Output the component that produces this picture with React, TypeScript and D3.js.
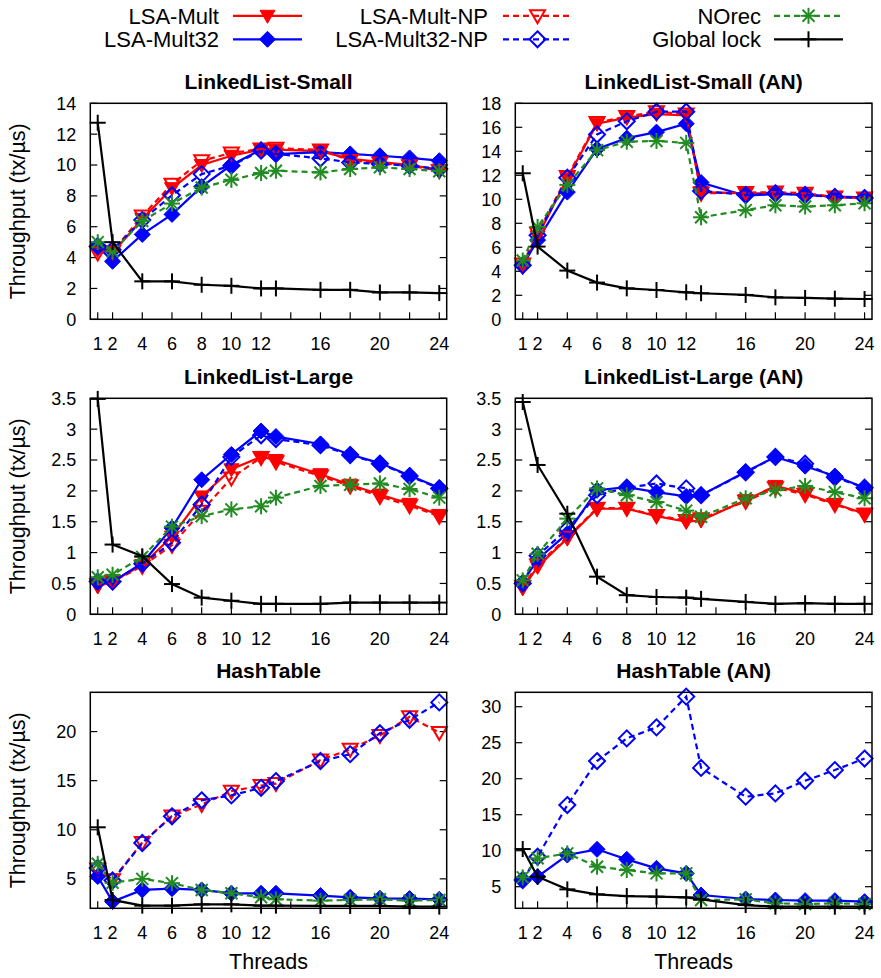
import React from 'react';
import * as d3 from 'd3';

// ---------- data ----------
const THREADS = [1, 2, 4, 6, 8, 10, 12, 13, 16, 18, 20, 22, 24];
const X_TICKS = [1, 2, 4, 6, 8, 10, 12, 14, 16, 18, 20, 22, 24];
const X_TICK_LABELS = [1, 2, 4, 6, 8, 10, 12, 16, 20, 24];

const SERIES_NAMES = ['LSA-Mult', 'LSA-Mult32', 'LSA-Mult-NP', 'LSA-Mult32-NP', 'NOrec', 'Global lock'];

// LinkedList-Small
const llSmallMult = [4.5, 4.3, 6.5, 8.5, 10.0, 10.6, 11.0, 11.0, 10.9, 10.4, 10.2, 10.0, 9.7];
const llSmallMult32 = [4.74, 3.76, 5.5, 6.8, 8.6, 10.0, 11.0, 10.7, 10.83, 10.72, 10.6, 10.46, 10.28];
const llSmallMultNP = [4.3, 4.4, 6.7, 8.76, 10.28, 10.78, 11.04, 11.09, 10.98, 10.3, 10.13, 9.96, 9.63];
const llSmallMult32NP = [4.74, 4.5, 6.43, 8.04, 9.41, 9.96, 10.93, 10.72, 10.43, 10.17, 10.07, 9.96, 9.74];
const llSmallNOrec = [5.0, 4.4, 6.37, 7.5, 8.54, 9.04, 9.48, 9.63, 9.52, 9.74, 9.85, 9.74, 9.6];
const llSmallGlock = [12.74, 5.0, 2.46, 2.46, 2.24, 2.17, 2.0, 2.0, 1.91, 1.91, 1.74, 1.74, 1.7];

// LinkedList-Small (AN)
const llSmallANMult = [4.33, 6.9, 11.75, 16.3, 16.8, 17.1, 17.0, 10.6, 10.5, 10.5, 10.4, 10.2, 10.1];
const llSmallANMult32 = [4.5, 6.6, 10.6, 14.2, 15.1, 15.6, 16.3, 11.4, 10.3, 10.44, 10.36, 10.22, 10.17];
const llSmallANMultNP = [4.6, 7.17, 11.9, 16.4, 16.9, 17.3, 17.1, 10.5, 10.56, 10.6, 10.5, 10.2, 10.1];
const llSmallANMult32NP = [4.5, 7.0, 11.8, 15.4, 16.5, 17.3, 17.3, 10.7, 10.36, 10.5, 10.36, 10.2, 10.1];
const llSmallANNOrec = [4.9, 7.7, 11.2, 14.1, 14.8, 14.86, 14.7, 8.5, 9.1, 9.5, 9.4, 9.5, 9.67];
const llSmallANGlock = [12.17, 6.06, 4.06, 3.06, 2.58, 2.44, 2.25, 2.17, 2.03, 1.83, 1.78, 1.72, 1.69];

// LinkedList-Large
const llLargeMult = [0.45, 0.53, 0.8, 1.26, 1.91, 2.35, 2.55, 2.5, 2.27, 2.1, 1.94, 1.79, 1.61];
const llLargeMult32 = [0.53, 0.53, 0.83, 1.4, 2.18, 2.59, 2.97, 2.88, 2.76, 2.59, 2.45, 2.25, 2.05];
const llLargeMultNP = [0.48, 0.53, 0.78, 1.12, 1.67, 2.21, 2.54, 2.47, 2.24, 2.08, 1.91, 1.76, 1.59];
const llLargeMult32NP = [0.53, 0.53, 0.82, 1.16, 1.78, 2.55, 2.9, 2.84, 2.74, 2.58, 2.44, 2.24, 2.04];
const llLargeNOrec = [0.6, 0.64, 0.93, 1.42, 1.59, 1.7, 1.75, 1.89, 2.08, 2.1, 2.12, 2.03, 1.89];
const llLargeGlock = [3.49, 1.13, 0.94, 0.49, 0.27, 0.22, 0.17, 0.17, 0.17, 0.19, 0.19, 0.19, 0.19];

// LinkedList-Large (AN)
const llLargeANMult = [0.42, 0.77, 1.23, 1.71, 1.71, 1.59, 1.5, 1.52, 1.85, 2.08, 1.96, 1.79, 1.63];
const llLargeANMult32 = [0.52, 0.89, 1.31, 2.01, 2.06, 1.98, 1.91, 1.93, 2.31, 2.55, 2.4, 2.24, 2.05];
const llLargeANMultNP = [0.45, 0.8, 1.25, 1.72, 1.72, 1.6, 1.52, 1.55, 1.83, 2.05, 1.94, 1.78, 1.62];
const llLargeANMult32NP = [0.5, 0.95, 1.38, 1.93, 2.05, 2.12, 2.04, 1.93, 2.3, 2.55, 2.44, 2.22, 2.05];
const llLargeANNOrec = [0.55, 0.98, 1.55, 2.04, 1.93, 1.82, 1.68, 1.58, 1.88, 2.01, 2.08, 1.98, 1.88];
const llLargeANGlock = [3.44, 2.42, 1.63, 0.61, 0.31, 0.28, 0.27, 0.25, 0.2, 0.17, 0.18, 0.17, 0.17];

// HashTable
const htMult: (number | null)[] = [];
const htMult32 = [5.24, 2.68, 3.87, 4.0, 3.87, 3.53, 3.53, 3.53, 3.3, 3.12, 3.02, 2.99, 2.92];
const htMultNP = [6.0, 4.9, 8.7, 11.4, 12.57, 13.93, 14.5, 14.7, 17.1, 18.2, 19.6, 21.5, 19.9];
const htMult32NP = [6.1, 4.83, 8.65, 11.37, 13.0, 13.5, 14.27, 14.96, 17.0, 17.7, 19.83, 21.2, 22.97];
const htNOrec = [6.53, 4.6, 5.0, 4.56, 3.87, 3.53, 3.12, 2.92, 2.78, 2.85, 2.92, 2.78, 2.85];
const htGlock = [10.25, 2.85, 2.27, 2.27, 2.4, 2.4, 2.27, 2.27, 2.24, 2.24, 2.24, 2.17, 2.17];

// HashTable (AN)
const htANMult: (number | null)[] = [];
const htANMult32 = [5.93, 6.39, 9.4, 10.19, 8.8, 7.55, 6.85, 3.84, 3.29, 3.15, 3.06, 3.06, 2.92];
const htANMultNP: (number | null)[] = [];
const htANMult32NP = [5.93, 9.17, 16.34, 22.45, 25.6, 27.13, 31.4, 21.5, 17.5, 17.96, 19.72, 21.2, 22.8];
const htANNOrec = [6.3, 8.94, 9.63, 7.78, 7.31, 6.85, 6.85, 3.15, 3.24, 2.69, 2.6, 2.69, 2.6];
const htANGlock = [10.23, 6.39, 4.63, 3.94, 3.7, 3.61, 3.52, 3.24, 2.45, 2.22, 2.22, 2.22, 2.22];

const Y_TICKS_LLS = [0, 2, 4, 6, 8, 10, 12, 14];
const Y_TICKS_LLSAN = [0, 2, 4, 6, 8, 10, 12, 14, 16, 18];
const Y_TICKS_LLL = [0, 0.5, 1, 1.5, 2, 2.5, 3, 3.5];
const Y_TICKS_HT = [5, 10, 15, 20];
const Y_TICKS_HTAN = [5, 10, 15, 20, 25, 30];

// ---------- styles ----------
const FONT = "'Liberation Sans', Arial, Helvetica, sans-serif";
const STYLES = [
  { color: '#ff0000', dashed: false, marker: 'triFill' },
  { color: '#0000ff', dashed: false, marker: 'diaFill' },
  { color: '#ff0000', dashed: true, marker: 'triOpen' },
  { color: '#0000ff', dashed: true, marker: 'diaOpen' },
  { color: '#228b22', dashed: true, marker: 'star' },
  { color: '#000000', dashed: false, marker: 'plus' },
];

const COL_X = [[90.3, 446.7], [515.3, 872]];
const ROW_Y = [103.3, 398.3, 692.3];
const PH = 216;

const PANELS = [
  { title: 'LinkedList-Small', col: 0, row: 0, yDomain: [0, 14], yTicks: Y_TICKS_LLS,
    series: [llSmallMult, llSmallMult32, llSmallMultNP, llSmallMult32NP, llSmallNOrec, llSmallGlock] },
  { title: 'LinkedList-Small (AN)', col: 1, row: 0, yDomain: [0, 18], yTicks: Y_TICKS_LLSAN,
    series: [llSmallANMult, llSmallANMult32, llSmallANMultNP, llSmallANMult32NP, llSmallANNOrec, llSmallANGlock] },
  { title: 'LinkedList-Large', col: 0, row: 1, yDomain: [0, 3.5], yTicks: Y_TICKS_LLL,
    series: [llLargeMult, llLargeMult32, llLargeMultNP, llLargeMult32NP, llLargeNOrec, llLargeGlock] },
  { title: 'LinkedList-Large (AN)', col: 1, row: 1, yDomain: [0, 3.5], yTicks: Y_TICKS_LLL,
    series: [llLargeANMult, llLargeANMult32, llLargeANMultNP, llLargeANMult32NP, llLargeANNOrec, llLargeANGlock] },
  { title: 'HashTable', col: 0, row: 2, yDomain: [2, 24], yTicks: Y_TICKS_HT,
    series: [htMult, htMult32, htMultNP, htMult32NP, htNOrec, htGlock] },
  { title: 'HashTable (AN)', col: 1, row: 2, yDomain: [2, 32], yTicks: Y_TICKS_HTAN,
    series: [htANMult, htANMult32, htANMultNP, htANMult32NP, htANNOrec, htANGlock] },
];

function Marker({ type, x, y, color }: { type: string; x: number; y: number; color: string }) {
  const sw = 2;
  switch (type) {
    case 'triFill':
    case 'triOpen': {
      const w = 7.5, up = 5.5, dn = 7.5;
      const pts = `${x - w},${y - up} ${x + w},${y - up} ${x},${y + dn}`;
      return type === 'triFill'
        ? <polygon points={pts} fill={color} stroke={color} strokeWidth={1} />
        : <polygon points={pts} fill="none" stroke={color} strokeWidth={sw} />;
    }
    case 'diaFill':
    case 'diaOpen': {
      const r = 8;
      const pts = `${x},${y - r} ${x + r},${y} ${x},${y + r} ${x - r},${y}`;
      return type === 'diaFill'
        ? <polygon points={pts} fill={color} stroke={color} strokeWidth={1} />
        : <polygon points={pts} fill="none" stroke={color} strokeWidth={sw} />;
    }
    case 'star': {
      const r = 8, d = 6;
      return (
        <g stroke={color} strokeWidth={sw}>
          <line x1={x - r} y1={y} x2={x + r} y2={y} />
          <line x1={x} y1={y - r} x2={x} y2={y + r} />
          <line x1={x - d} y1={y - d} x2={x + d} y2={y + d} />
          <line x1={x - d} y1={y + d} x2={x + d} y2={y - d} />
        </g>
      );
    }
    default: {
      const r = 8;
      return (
        <g stroke={color} strokeWidth={sw}>
          <line x1={x - r} y1={y} x2={x + r} y2={y} />
          <line x1={x} y1={y - r} x2={x} y2={y + r} />
        </g>
      );
    }
  }
}

function Panel({ p }: { p: typeof PANELS[number] }) {
  const [x0, x1] = COL_X[p.col];
  const y0 = ROW_Y[p.row];
  const y1 = y0 + PH;
  const xs = d3.scaleLinear().domain([0.5, 24.5]).range([x0, x1]);
  const ys = d3.scaleLinear().domain(p.yDomain).range([y1, y0]);
  const tickLen = 7;
  return (
    <g>
      <text x={(x0 + x1) / 2} y={y0 - 14.5} textAnchor="middle" fontFamily={FONT}
        fontWeight="bold" fontSize={21}>{p.title}</text>
      {/* y ticks */}
      {p.yTicks.map((t) => (
        <g key={'y' + t}>
          <line x1={x0} x2={x0 + tickLen} y1={ys(t)} y2={ys(t)} stroke="#000" strokeWidth={1.2} />
          <line x1={x1} x2={x1 - tickLen} y1={ys(t)} y2={ys(t)} stroke="#000" strokeWidth={1.2} />
          <text x={x0 - 14} y={ys(t) + 6.4} textAnchor="end" fontFamily={FONT} fontSize={18}>{String(t)}</text>
        </g>
      ))}
      {/* x ticks */}
      {X_TICKS.map((t) => (
        <line key={'x' + t} x1={xs(t)} x2={xs(t)} y1={y1} y2={y1 - tickLen} stroke="#000" strokeWidth={1.2} />
      ))}
      {X_TICK_LABELS.map((t) => (
        <text key={'xl' + t} x={xs(t)} y={y1 + 30.5} textAnchor="middle" fontFamily={FONT} fontSize={18}>{String(t)}</text>
      ))}
      {/* series */}
      {p.series.map((vals, si) => {
        const st = STYLES[si];
        const pts = THREADS.map((t, i) => [t, vals[i]] as [number, number | null | undefined])
          .filter((d) => d[1] != null) as [number, number][];
        if (!pts.length) return null;
        const line = d3.line<[number, number]>().x((d) => xs(d[0])).y((d) => ys(d[1]));
        return (
          <g key={'s' + si}>
            <path d={line(pts) || ''} fill="none" stroke={st.color} strokeWidth={2.2}
              strokeDasharray={st.dashed ? '6,4' : undefined} />
            {pts.map((d, i) => (
              <Marker key={i} type={st.marker} x={xs(d[0])} y={ys(d[1])} color={st.color} />
            ))}
          </g>
        );
      })}
      <rect x={x0} y={y0} width={x1 - x0} height={y1 - y0} fill="none" stroke="#000" strokeWidth={1.5} />
      {p.col === 0 && (
        <text x={25.5} y={(y0 + y1) / 2} transform={`rotate(-90, 25.5, ${(y0 + y1) / 2})`}
          textAnchor="middle" fontFamily={FONT} fontSize={21.5}>Throughput (tx/µs)</text>
      )}
      {p.row === 2 && (
        <text x={(x0 + x1) / 2} y={969} textAnchor="middle" fontFamily={FONT} fontSize={21.5}>Threads</text>
      )}
    </g>
  );
}

const LEGEND_COLS = [
  { textRight: 219, lx0: 233, lx1: 302 },
  { textRight: 488, lx0: 503, lx1: 572 },
  { textRight: 761, lx0: 774, lx1: 843 },
];
const LEGEND_ROWS = [15.8, 39.3];

function Legend() {
  return (
    <g>
      {SERIES_NAMES.map((name, i) => {
        const c = LEGEND_COLS[Math.floor(i / 2)];
        const y = LEGEND_ROWS[i % 2];
        const st = STYLES[i];
        return (
          <g key={name}>
            <text x={c.textRight} y={y + 7.8} textAnchor="end" fontFamily={FONT} fontSize={22}>{name}</text>
            <line x1={c.lx0} x2={c.lx1} y1={y} y2={y} stroke={st.color} strokeWidth={2.2}
              strokeDasharray={st.dashed ? '6,4' : undefined} />
            <Marker type={st.marker} x={(c.lx0 + c.lx1) / 2} y={y} color={st.color} />
          </g>
        );
      })}
    </g>
  );
}

export default function App() {
  return (
    <div style={{ position: 'absolute', left: 0, top: 0 }}>
      <svg width={881} height={978} viewBox="0 0 881 978" style={{ display: 'block', background: '#fff' }}>
        <rect width={881} height={978} fill="#fff" />
        <Legend />
        {PANELS.map((p) => <Panel key={p.title} p={p} />)}
      </svg>
    </div>
  );
}
